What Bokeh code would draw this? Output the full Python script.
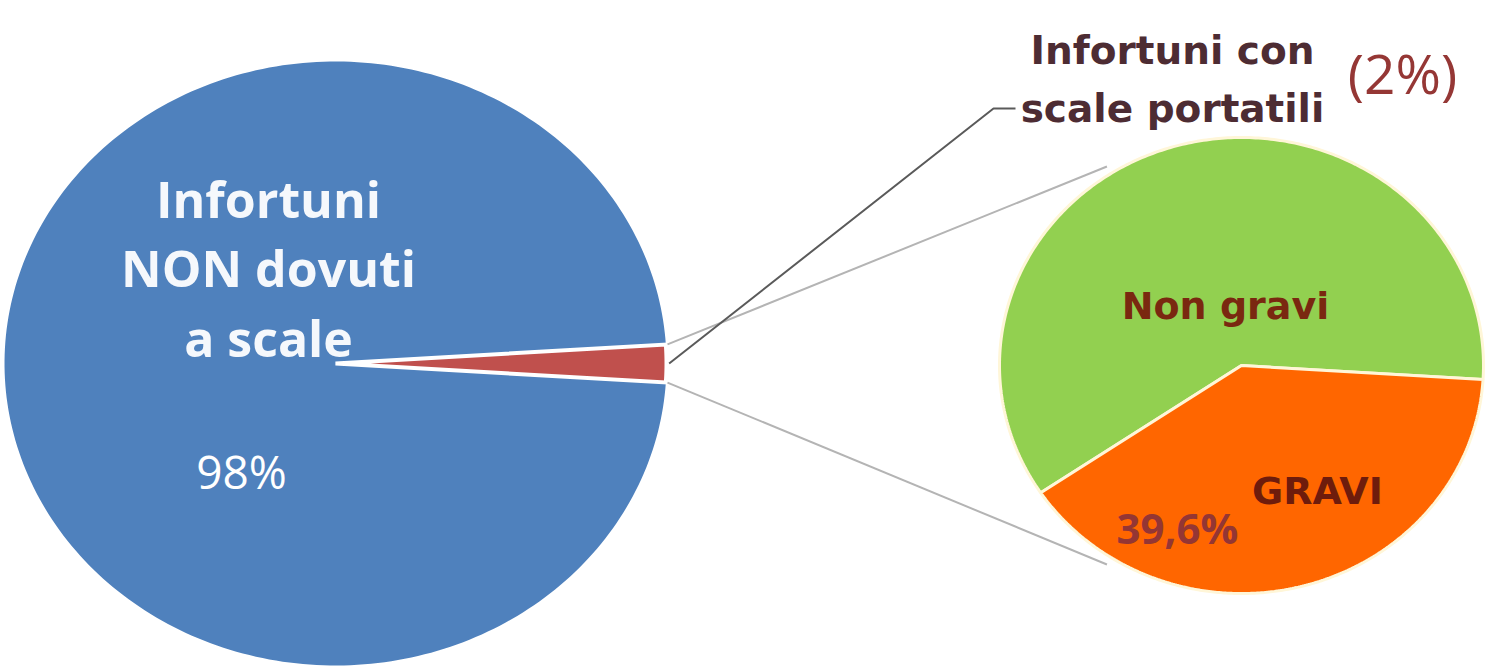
import numpy as np
from bokeh.plotting import figure
from bokeh.models import Range1d
from bokeh.embed import file_html
from bokeh.resources import INLINE
from bokeh.core.properties import value

# ---------------- data ----------------
main_labels = ["Infortuni NON dovuti a scale", "Infortuni con scale portatili"]
main_label_lines = [["Infortuni", "NON dovuti", "a scale"], ["Infortuni con", "scale portatili"]]
main_values = [98.0, 2.0]
main_pct_labels = ["98%", "(2%)"]
main_colors = ["#4F81BD", "#C0504D"]

sub_labels = ["Non gravi", "GRAVI"]
sub_values = [60.4, 39.6]
sub_pct_label = "39,6%"
sub_colors = ["#92D050", "#FF6600"]

# ---------------- layout (reference pixel space) ----------------
W, H = 1485, 667
X0, Y0 = 0, 0
BIG = dict(cx=335.0, cy=363.0, rx=331.0, ry=302.0)
SMALL = dict(cx=1241.0, cy=365.0, rx=242.0, ry=228.0)
SMALL_START = -3.5  # angle (deg) of the GRAVI / Non gravi boundary on the right

p = figure(width=W, height=H, x_range=Range1d(X0, X0 + W), y_range=Range1d(Y0 + H, Y0),
           output_backend="svg", toolbar_location=None, min_border=0)
p.axis.visible = False
p.grid.visible = False
p.outline_line_color = None
p.background_fill_color = "white"
p.border_fill_color = "white"


def wedge_pts(c, a0, a1, n=300):
    t = np.radians(np.linspace(a0, a1, n))
    xs = np.concatenate([[c["cx"]], c["cx"] + c["rx"] * np.cos(t), [c["cx"]]])
    ys = np.concatenate([[c["cy"]], c["cy"] - c["ry"] * np.sin(t), [c["cy"]]])
    return list(xs), list(ys)


def ell_pt(c, a, f=1.0):
    t = np.radians(a)
    return c["cx"] + f * c["rx"] * np.cos(t), c["cy"] - f * c["ry"] * np.sin(t)


# ---------------- main pie ----------------
tot = sum(main_values)
half_red = main_values[1] / tot * 360.0 / 2.0
bx, by = wedge_pts(BIG, half_red, 360.0 - half_red)
rx_, ry_ = wedge_pts(BIG, -half_red, half_red)
p.patch(bx, by, fill_color=main_colors[0], line_color=None)
p.patch(rx_, ry_, fill_color=main_colors[1], line_color="white", line_width=4, line_join="miter")

# ---------------- secondary pie ----------------
stot = sum(sub_values)
gravi_span = sub_values[1] / stot * 360.0
gx, gy = wedge_pts(SMALL, SMALL_START, SMALL_START + 360.0 - gravi_span)
ox, oy = wedge_pts(SMALL, SMALL_START - gravi_span, SMALL_START)
p.patch(gx, gy, fill_color=sub_colors[0], line_color="#FFF6D8", line_width=3)
p.patch(ox, oy, fill_color=sub_colors[1], line_color="#FFF6D8", line_width=3)

# ---------------- connector lines ----------------
u0 = ell_pt(BIG, half_red, 1.005)
u1 = ell_pt(SMALL, 122.5, 1.035)
l0 = ell_pt(BIG, -half_red, 1.005)
l1 = ell_pt(SMALL, -122.5, 1.035)
p.multi_line([[u0[0], u1[0]], [l0[0], l1[0]]], [[u0[1], u1[1]], [l0[1], l1[1]]],
             line_color="#B4B4B4", line_width=2)

# leader line to the "Infortuni con scale portatili" label
m0 = ell_pt(BIG, 0.0, 1.008)
p.line([m0[0], 993, 1015], [m0[1], 108, 108], line_color="#5A5A5A", line_width=2)

# ---------------- texts ----------------
L1 = main_label_lines[0]
p.text(x=[268] * len(L1), y=[198 + i * 69.5 for i in range(len(L1))], text=L1,
       text_font=value("Open Sans"), text_font_style="bold", text_font_size="50px",
       text_color="#F5F8FC", text_align="center", text_baseline="alphabetic")
p.text(x=[241], y=[470], text=[main_pct_labels[0]],
       text_font=value("Open Sans"), text_font_size="46px",
       text_color="white", text_align="center", text_baseline="alphabetic")

L2 = main_label_lines[1]
p.text(x=[1172] * len(L2), y=[50 + i * 58 for i in range(len(L2))], text=L2,
       text_font=value("DejaVu Sans"), text_font_style="bold", text_font_size="39px",
       text_color="#4D2C33", text_align="center", text_baseline="alphabetic")
p.text(x=[1402], y=[72], text=[main_pct_labels[1]],
       text_font=value("Open Sans"), text_font_size="55px",
       text_color="#953735", text_align="center", text_baseline="alphabetic")

p.text(x=[1225], y=[305], text=[sub_labels[0]],
       text_font=value("DejaVu Sans"), text_font_style="bold", text_font_size="38px",
       text_color="#7A2810", text_align="center", text_baseline="alphabetic")
p.text(x=[1317], y=[490], text=[sub_labels[1]],
       text_font=value("DejaVu Sans"), text_font_style="bold", text_font_size="38px",
       text_color="#6E1C0C", text_align="center", text_baseline="alphabetic")
p.text(x=[1177], y=[527], text=[sub_pct_label],
       text_font=value("Open Sans"), text_font_style="bold", text_font_size="42px",
       text_color="#943634", text_align="center", text_baseline="alphabetic")

open("out.html", "w").write(file_html(p, INLINE))
